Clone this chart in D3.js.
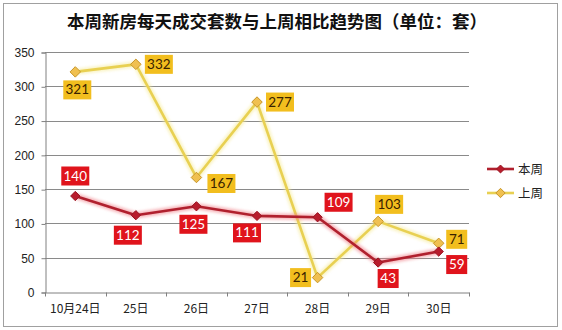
<!DOCTYPE html>
<html>
<head>
<meta charset="utf-8">
<script src="https://cdn.jsdelivr.net/npm/d3@7"></script>
<style>
  html, body { margin: 0; padding: 0; background: #fff; }
  svg { display: block; }
</style>
</head>
<body>
<svg id="chart" width="562" height="330"></svg>
<script>
// Daily new-home sales, this week vs last week (units: 套)
const categories = ["10月24日", "25日", "26日", "27日", "28日", "29日", "30日"];
const thisWeek = [140, 112, 125, 111, 109, 43, 59];
const lastWeek = [321, 332, 167, 277, 21, 103, 71];
const yTicks = [0, 50, 100, 150, 200, 250, 300, 350];
const seriesNames = ["本周", "上周"];
const titleText = "本周新房每天成交套数与上周相比趋势图（单位：套）";

// Placement of each value tag relative to its point [dx, dy]
const thisWeekTagOffsets = [[0, -20], [-8, 20], [-3, 18], [-10, 17], [21, -15], [10, 16], [18, 13]];
const lastWeekTagOffsets = [[2, 18], [23, 0], [25, 6], [23, 0], [-17, 0], [11, -17], [18, -4]];

const svg = d3.select("#chart");

const defs = svg.append("defs");
defs.append("filter").attr("id", "glow")
  .attr("x", "-10%").attr("y", "-10%").attr("width", "120%").attr("height", "120%")
  .append("feGaussianBlur").attr("stdDeviation", 1.6);

// Outer frame
svg.append("rect")
  .attr("x", 3.5).attr("y", 3.5).attr("width", 554).attr("height", 323)
  .attr("fill", "#fff").attr("stroke", "#a0a0a0").attr("stroke-width", 1);

// Title
svg.append("text")
  .attr("x", 277).attr("y", 28)
  .attr("text-anchor", "middle")
  .attr("font-family", "'Noto Sans CJK SC', sans-serif")
  .attr("font-weight", "bold")
  .attr("font-size", 17.5)
  .attr("fill", "#111")
  .text(titleText);

const x = d3.scaleBand().domain(categories).range([45, 469]);
const y = d3.scaleLinear().domain([0, 350]).range([292, 52]);

// Gridlines
svg.append("g")
  .selectAll("line")
  .data(yTicks.filter(d => d > 0))
  .join("line")
  .attr("x1", 45).attr("x2", 469)
  .attr("y1", d => Math.round(y(d)) + 0.5).attr("y2", d => Math.round(y(d)) + 0.5)
  .attr("stroke", "#8a8a8a").attr("stroke-width", 1);

// Y axis
const yAxis = svg.append("g")
  .attr("transform", "translate(45.5,0.5)")
  .call(d3.axisLeft(y).tickValues(yTicks).tickSize(4).tickPadding(7));
yAxis.select(".domain").attr("stroke", "#808080");
yAxis.selectAll(".tick line").attr("stroke", "#808080");
yAxis.selectAll(".tick text")
  .attr("font-family", "'Liberation Sans', Arial, sans-serif")
  .attr("font-size", 12).attr("fill", "#222");

// X axis with tick marks on category boundaries
const xAxis = svg.append("g")
  .attr("transform", "translate(0," + (y(0) + 0.5) + ")")
  .call(d3.axisBottom(x).tickSize(0).tickPadding(12));
xAxis.select(".domain").attr("stroke", "#808080");
xAxis.selectAll(".tick text")
  .attr("font-family", "'Noto Sans CJK SC', sans-serif")
  .attr("font-size", 12).attr("fill", "#222");
xAxis.append("g")
  .selectAll("line")
  .data(categories.concat(["__end"]))
  .join("line")
  .attr("x1", (d, i) => Math.round(45 + i * x.step()) + 0.5)
  .attr("x2", (d, i) => Math.round(45 + i * x.step()) + 0.5)
  .attr("y1", 0).attr("y2", 4)
  .attr("stroke", "#808080");

const cx = d => x(d) + x.bandwidth() / 2;
const line = d3.line().x(d => cx(d.cat)).y(d => y(d.v));

function drawSeries(values, lineColor, glowColor, markerFill, markerStroke, markerSize) {
  const pts = values.map((v, i) => ({ cat: categories[i], v }));
  const g = svg.append("g");
  g.append("path").datum(pts)
    .attr("d", line).attr("fill", "none")
    .attr("stroke", glowColor).attr("stroke-width", 6).attr("opacity", 0.6)
    .attr("stroke-linejoin", "round")
    .attr("filter", "url(#glow)");
  g.append("path").datum(pts)
    .attr("d", line).attr("fill", "none")
    .attr("stroke", lineColor).attr("stroke-width", 2.6)
    .attr("stroke-linejoin", "round");
  g.selectAll("path.marker")
    .data(pts)
    .join("path")
    .attr("class", "marker")
    .attr("d", d3.symbol(d3.symbolDiamond2, markerSize))
    .attr("transform", d => "translate(" + cx(d.cat) + "," + y(d.v) + ")")
    .attr("fill", markerFill).attr("stroke", markerStroke).attr("stroke-width", 1);
  return pts;
}

const lastPts = drawSeries(lastWeek, "#e8d052", "#f6eb9a", "#f0c050", "#c8962a", 70);
const thisPts = drawSeries(thisWeek, "#b0202e", "#f08088", "#b81c2c", "#9a1422", 55);

function drawTags(pts, offsets, boxColor, textColor) {
  const g = svg.append("g");
  pts.forEach((d, i) => {
    const tx = cx(d.cat) + offsets[i][0];
    const ty = y(d.v) + offsets[i][1];
    const label = String(d.v);
    const w = label.length >= 3 ? 28 : 21;
    const h = 19;
    g.append("rect")
      .attr("x", tx - w / 2).attr("y", ty - h / 2)
      .attr("width", w).attr("height", h)
      .attr("fill", boxColor);
    g.append("text")
      .attr("x", tx).attr("y", ty + 4.5)
      .attr("text-anchor", "middle")
      .attr("font-family", "Lato, 'Open Sans', sans-serif")
      .attr("font-size", 13.5)
      .attr("fill", textColor)
      .text(label);
  });
}

drawTags(lastPts, lastWeekTagOffsets, "#f2be1e", "#3a2200");
drawTags(thisPts, thisWeekTagOffsets, "#e0141c", "#ffffff");

// Legend
const legend = svg.append("g");
const legendItems = [
  { name: seriesNames[0], color: "#b0202e", glow: "#f08088", fill: "#b81c2c", stroke: "#9a1422", size: 40, yy: 169 },
  { name: seriesNames[1], color: "#e8d052", glow: "#f6eb9a", fill: "#f0c050", stroke: "#c8962a", size: 55, yy: 193 }
];
legendItems.forEach(it => {
  legend.append("line")
    .attr("x1", 487).attr("x2", 514).attr("y1", it.yy).attr("y2", it.yy)
    .attr("stroke", it.glow).attr("stroke-width", 6).attr("opacity", 0.6)
    .attr("filter", "url(#glow)");
  legend.append("line")
    .attr("x1", 487).attr("x2", 514).attr("y1", it.yy).attr("y2", it.yy)
    .attr("stroke", it.color).attr("stroke-width", 2.6);
  legend.append("path")
    .attr("d", d3.symbol(d3.symbolDiamond2, it.size))
    .attr("transform", "translate(500.5," + it.yy + ")")
    .attr("fill", it.fill).attr("stroke", it.stroke).attr("stroke-width", 1);
  legend.append("text")
    .attr("x", 518).attr("y", it.yy + 4.5)
    .attr("font-family", "'Noto Sans CJK SC', sans-serif")
    .attr("font-size", 12.5).attr("fill", "#222")
    .text(it.name);
});
</script>
</body>
</html>
